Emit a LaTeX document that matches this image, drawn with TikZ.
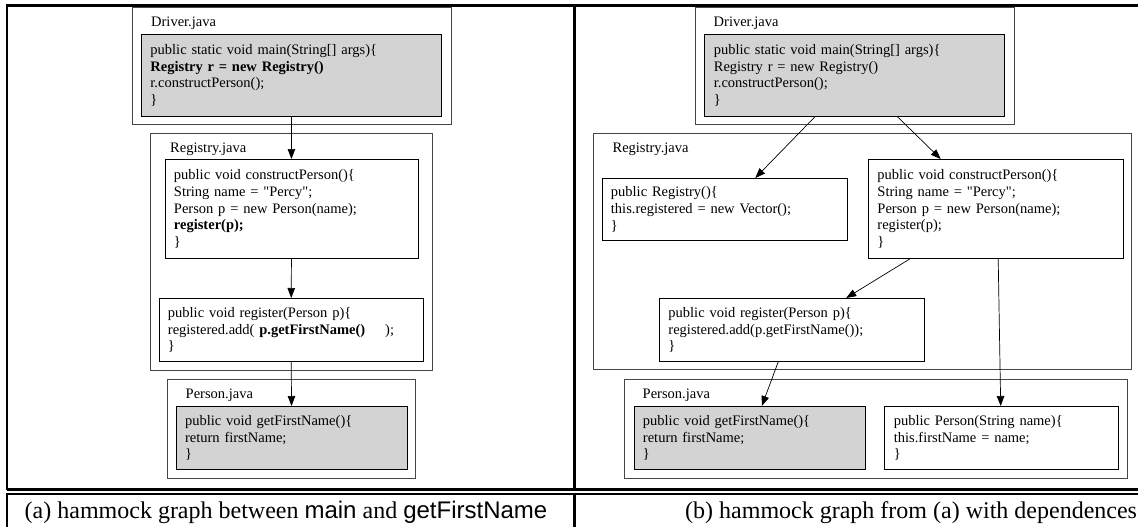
\documentclass[tikz,border=0pt]{standalone}
\usepackage{fontspec}
\setmainfont{Liberation Serif}
\newfontfamily\helv{Liberation Sans}
\usetikzlibrary{arrows.meta}
\definecolor{lgray}{RGB}{211,211,211}
\definecolor{clgray}{RGB}{70,70,70}
\newcommand{\codefont}{\fontsize{14.5}{16.9}\selectfont}
\newcommand{\lblfont}{\fontsize{14.5}{16.9}\selectfont}
\newcommand{\dq}{\textquotedbl{}}
\tikzset{
  frameline/.style={line width=2.6pt},
  cluster/.style={draw=clgray, line width=0.9pt, anchor=north west, inner sep=0pt},
  codebox/.style={draw=black, line width=0.9pt, anchor=north west, align=left, inner xsep=9pt, inner ysep=0pt, font=\codefont},
  lbl/.style={anchor=base west, inner sep=0pt, font=\lblfont},
  arr/.style={line width=0.7pt, -{Triangle[length=10pt,width=7.5pt]}},
  captext/.style={inner sep=0pt, font=\fontsize{24}{28}\selectfont}
}
\begin{document}
\begin{tikzpicture}[x=1pt,y=-1pt]
\useasboundingbox (0,0) rectangle (1138,527);
\clip (0,0) rectangle (1138,527);
% frame
\draw[frameline] (7,489.5) -- (7,5.3) -- (1150,5.3);
\draw[frameline] (574.7,5.3) -- (574.7,489.5);
\draw[frameline] (7,489.5) -- (1150,489.5);
\draw[frameline] (7,540) -- (7,493.8) -- (1150,493.8);
\draw[frameline] (574.7,493.8) -- (574.7,540);

% ---------------- left panel ----------------
\node[cluster, minimum width=319pt, minimum height=117pt] (drvL) at (132,7) {};
\node[lbl] (drvLl) at (151,26.5) {Driver.java};
\node[codebox, fill=lgray, text width=282pt, minimum height=81pt] (mainL) at (141,34.5)
  {public static void main(String[] args)\{\\\textbf{Registry r = new Registry()}\\r.constructPerson();\\\}};

\node[cluster, minimum width=282pt, minimum height=237pt] (regclL) at (150,133) {};
\node[lbl] (regclLl) at (170,152) {Registry.java};
\node[codebox, text width=235pt, minimum height=99pt] (cpL) at (164.5,159)
  {public void constructPerson()\{\\String name = \dq Percy\dq;\\Person p = new Person(name);\\\textbf{register(p);}\\\}};
\node[codebox, text width=246.5pt, minimum height=63pt] (regL) at (158.5,298)
  {public void register(Person p)\{\\registered.add( \textbf{p.getFirstName()}\hspace{20pt});\\\}};

\node[cluster, minimum width=248pt, minimum height=99pt] (perclL) at (167,379) {};
\node[lbl] (perclLl) at (185.5,398) {Person.java};
\node[codebox, fill=lgray, text width=213pt, minimum height=63pt] (gfnL) at (175.6,406)
  {public void getFirstName()\{\\return firstName;\\\}};

\draw[arr] (mainL.south) -- (cpL.north);
\draw[arr] (cpL.south) -- (regL.north);
\draw[arr] (regL.south) -- (gfnL.north);

% ---------------- right panel ----------------
\node[cluster, minimum width=318.2pt, minimum height=117pt] (drvR) at (695.3,7) {};
\node[lbl] (drvRl) at (713.5,26.5) {Driver.java};
\node[codebox, fill=lgray, text width=282pt, minimum height=81pt] (mainR) at (704.4,34.5)
  {public static void main(String[] args)\{\\Registry r = new Registry()\\r.constructPerson();\\\}};

\node[cluster, minimum width=537.8pt, minimum height=236pt] (regclR) at (592.7,133) {};
\node[lbl] (regclRl) at (612.4,152) {Registry.java};
\node[codebox, text width=227.8pt, minimum height=62pt] (ctorR) at (601.5,178)
  {public Registry()\{\\this.registered = new Vector();\\\}};
\node[codebox, text width=236.5pt, minimum height=99pt] (cpR) at (868,159)
  {public void constructPerson()\{\\String name = \dq Percy\dq;\\Person p = new Person(name);\\register(p);\\\}};
\node[codebox, text width=246.6pt, minimum height=63pt] (regR) at (659,298)
  {public void register(Person p)\{\\registered.add(p.getFirstName());\\\}};

\node[cluster, minimum width=502.6pt, minimum height=99pt] (perclR) at (624.4,379) {};
\node[lbl] (perclRl) at (642.5,398) {Person.java};
\node[codebox, fill=lgray, text width=213pt, minimum height=63pt] (gfnR) at (633.5,406)
  {public void getFirstName()\{\\return firstName;\\\}};
\node[codebox, text width=215.6pt, minimum height=63pt] (pctorR) at (884.4,406)
  {public Person(String name)\{\\this.firstName = name;\\\}};

\draw[arr] ([xshift=110.9pt]mainR.south west) -- ([xshift=153.8pt]ctorR.north west);
\draw[arr] ([xshift=192.7pt]mainR.south west) -- ([xshift=72.7pt]cpR.north west);
\draw[arr] ([xshift=41.8pt]cpR.south west) -- ([xshift=187.2pt]regR.north west);
\draw[arr] ([xshift=130.2pt]cpR.south west) -- ([xshift=116.3pt]pctorR.north west);
\draw[arr] ([xshift=119.2pt]regR.south west) -- ([xshift=128.3pt]gfnR.north west);

% captions
\node[captext, anchor=base] (capA) at (286,518) {(a) hammock graph between {\helv main} and {\helv getFirstName}};
\node[captext, anchor=base west] (capB) at (685,518) {(b) hammock graph from (a) with dependences};
\end{tikzpicture}
\end{document}
